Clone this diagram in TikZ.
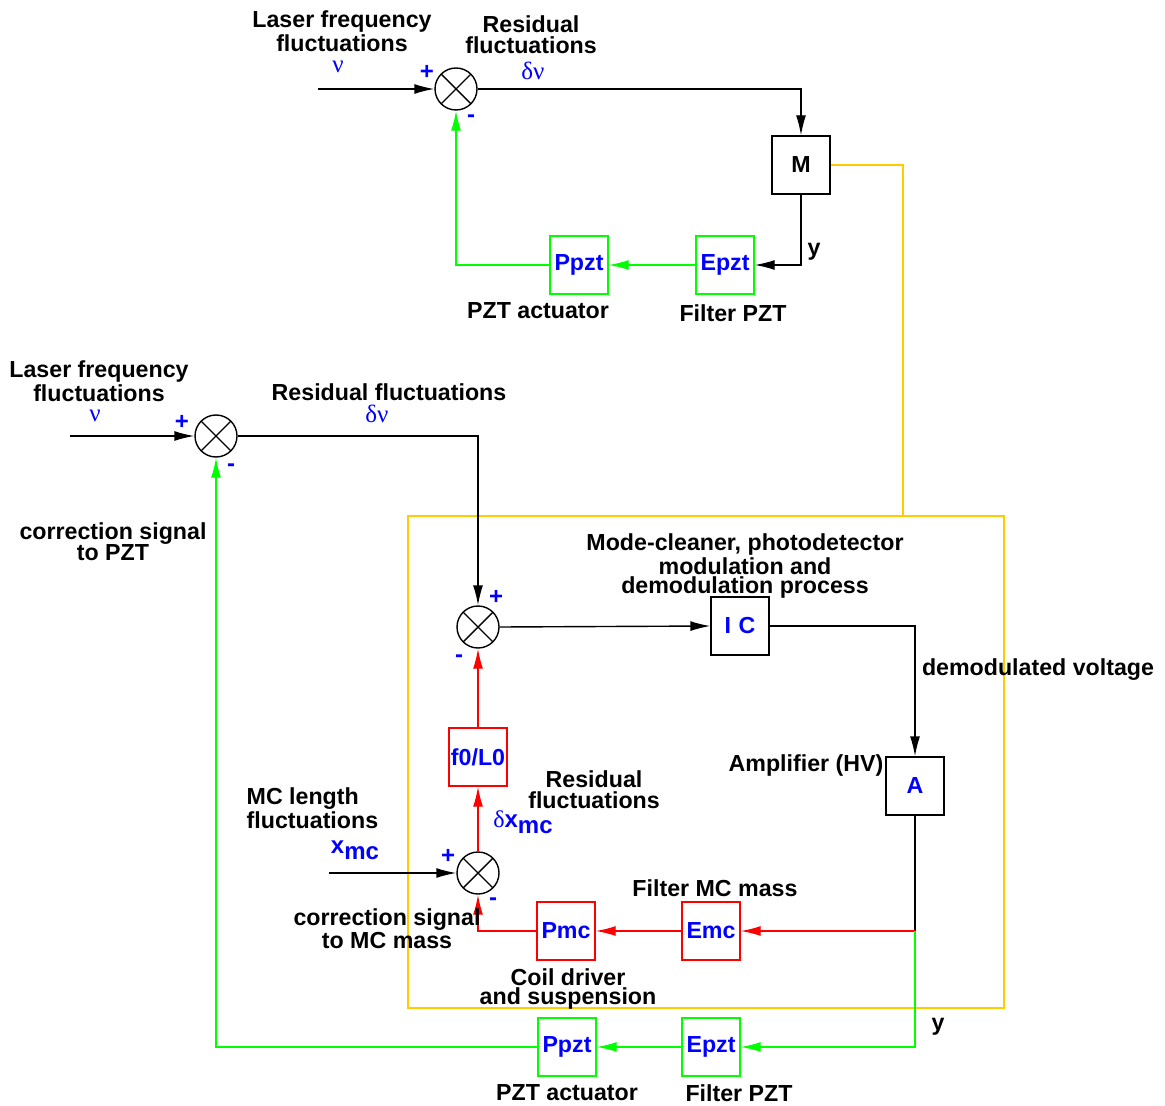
\documentclass[tikz,border=0pt]{standalone}
\usepackage{fontspec}
\setmainfont{Liberation Sans}
\newfontfamily\grkfont{Liberation Serif}
\usetikzlibrary{arrows.meta}
\definecolor{sigblue}{RGB}{0,0,255}
\definecolor{pztgreen}{RGB}{0,255,0}
\definecolor{mcred}{RGB}{255,0,0}
\definecolor{boxgold}{RGB}{255,204,0}
\newcommand{\sub}[1]{\raisebox{-0.45ex}{#1}}
\begin{document}
\begin{tikzpicture}[x=0.5pt, y=-0.5pt, line width=0.7pt,
    >={Latex[length=10pt,width=5pt]},
    sum/.style = {draw, circle, minimum size=21pt, inner sep=0pt,
      path picture={\draw (path picture bounding box.north west) -- (path picture bounding box.south east)
        (path picture bounding box.north east) -- (path picture bounding box.south west);}},
    blk/.style = {draw, minimum size=29pt, inner sep=0pt, text=sigblue,
      font=\fontsize{11.6}{12}\selectfont\bfseries},
    lbl/.style = {align=center, inner sep=0pt, font=\fontsize{11.6}{10.5}\selectfont\bfseries},
    tight/.style = {font=\fontsize{11.6}{9.5}\selectfont\bfseries},
    sgn/.style = {inner sep=0pt, text=sigblue, font=\fontsize{12}{12}\selectfont\bfseries},
    grk/.style = {inner sep=0pt, text=sigblue, font=\fontsize{12.5}{12}\selectfont\grkfont}]
  \useasboundingbox (0,0) rectangle (1165,1106);

  % upper loop: PZT only
  \node[sum] (s1) at (456,89) {};
  \node[blk, text=black] (M) at (801,165) {M};
  \node[blk, draw=pztgreen] (E1) at (725,265) {Epzt};
  \node[blk, draw=pztgreen] (P1) at (579,265) {Ppzt};
  \coordinate (in1) at (318,89);
  \draw[->] (in1) -- (s1.west);
  \draw[->] (s1.east) -| (M.north);
  \draw[->] (M.south) |- (E1.east);
  \draw[->, pztgreen] (E1.west) -- (P1.east);
  \draw[->, pztgreen] (P1.west) -| (s1.south);
  \node[lbl] (t1) at (342,31) {Laser frequency\\fluctuations};
  \node[lbl] (t2) at (531,35) {Residual\\fluctuations};
  \node[grk] (nu1) at (338,67) {ν};
  \node[grk] (dnu1) at (533,71) {δν};
  \node[sgn] at (427,72) {+};
  \node[sgn] at (471,119) {-};
  \node[lbl] at (814,252) {y};
  \node[lbl] at (538,311) {PZT actuator};
  \node[lbl] at (733,313) {Filter PZT};

  % yellow frame: mode-cleaner
  \coordinate (ytop) at (903,516);
  \draw[boxgold] (M.east) -| (ytop);
  \draw[boxgold] (408,516) rectangle (1004,1008);

  % lower loop: PZT + MC mass
  \node[sum] (s2) at (216,436) {};
  \node[sum] (s3) at (478,627) {};
  \node[blk] (IC) at (740,626) {I\,\,C};
  \node[blk] (A) at (915,786) {A};
  \node[blk, draw=mcred] (f0) at (478,757) {f0/L0};
  \node[sum] (s4) at (478,873) {};
  \node[blk, draw=mcred] (Emc) at (711,931) {Emc};
  \node[blk, draw=mcred] (Pmc) at (566,931) {Pmc};
  \node[blk, draw=pztgreen] (E2) at (711,1047) {Epzt};
  \node[blk, draw=pztgreen] (P2) at (567,1047) {Ppzt};
  \coordinate (in2) at (70,436);
  \coordinate (in4) at (329,873);
  \coordinate (br) at (915,931);
  \draw[->] (in2) -- (s2.west);
  \draw[->] (s2.east) -| (s3.north);
  \draw[->] (s3.east) -- (IC.west);
  \draw[->] (IC.east) -| (A.north);
  \draw (A.south) -- (br);
  \draw[->, mcred] (br) -- (Emc.east);
  \draw[->, mcred] (Emc.west) -- (Pmc.east);
  \draw[->, mcred] (Pmc.west) -| (s4.south);
  \draw[->, mcred] (s4.north) -- (f0.south);
  \draw[->, mcred] (f0.north) -- (s3.south);
  \draw[->] (in4) -- (s4.west);
  \draw[->, pztgreen] (br) |- (E2.east);
  \draw[->, pztgreen] (E2.west) -- (P2.east);
  \draw[->, pztgreen] (P2.west) -| (s2.south);

  \node[lbl] at (99,381) {Laser frequency\\fluctuations};
  \node[grk] at (95,416) {ν};
  \node[sgn] at (182,422) {+};
  \node[sgn] at (231,468) {-};
  \node[lbl] at (389,392) {Residual fluctuations};
  \node[grk] at (377,414) {δν};
  \node[lbl] at (113,542) {correction signal\\to PZT};
  \node[lbl, tight] at (745,566) {Mode-cleaner, photodetector\\modulation and\\demodulation process};
  \node[sgn] at (496,597) {+};
  \node[sgn] at (459,659) {-};
  \node[lbl] at (1038,670) {demodulated voltage};
  \node[lbl, anchor=east] at (884,765) {Amplifier (HV)};
  \node[lbl, align=left, anchor=west] at (246,808) {MC length\\fluctuations};
  \node[sgn] at (355,850) {x\sub{mc}};
  \node[sgn] at (448,856) {+};
  \node[sgn] at (493,902) {-};
  \node[lbl] at (594,790) {Residual\\fluctuations};
  \node[sgn] at (523,822) {{\grkfont\mdseries δ}x\sub{mc}};
  \node[lbl] at (387,929) {correction signal\\to MC mass};
  \node[lbl] at (715,888) {Filter MC mass};
  \node[lbl, tight] at (568,989) {Coil driver\\and suspension};
  \node[lbl] at (938,1027) {y};
  \node[lbl] at (567,1093) {PZT actuator};
  \node[lbl] at (739,1093) {Filter PZT};
\end{tikzpicture}
\end{document}
